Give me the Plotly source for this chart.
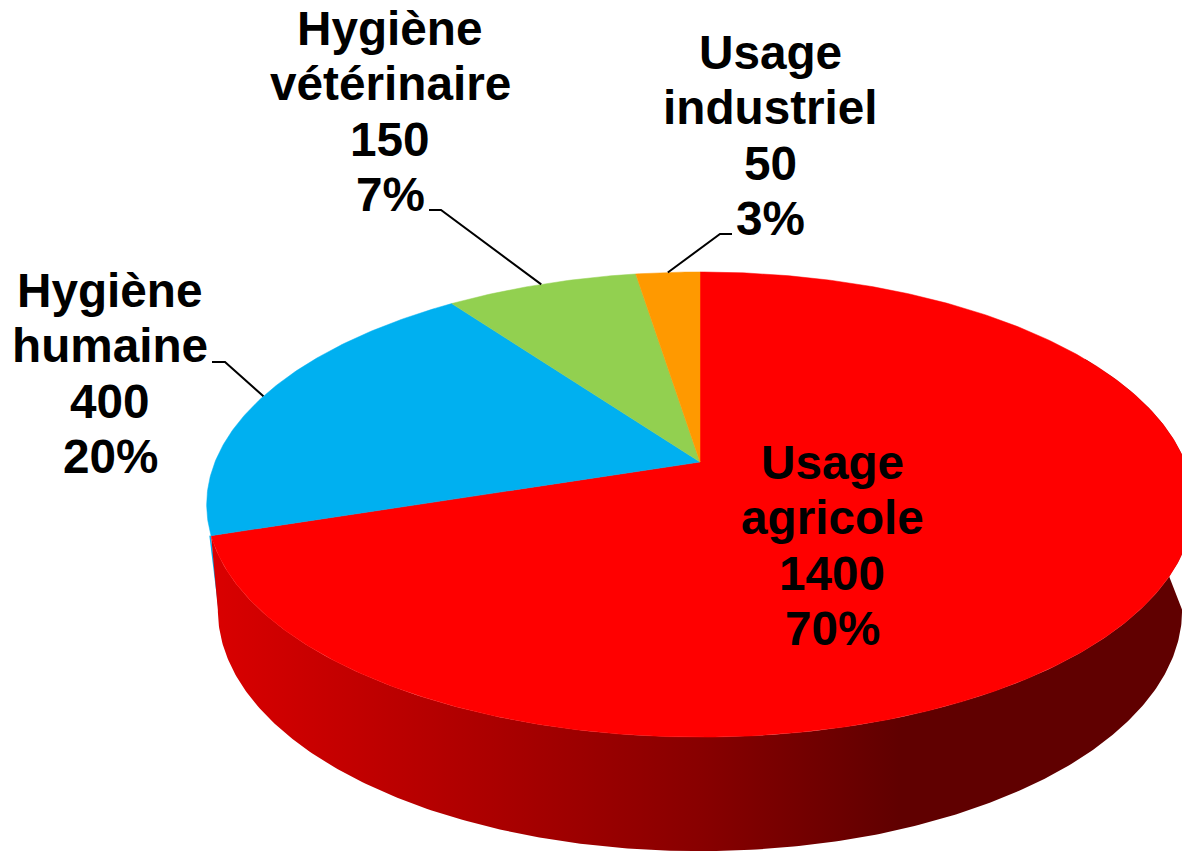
import numpy as np
import plotly.graph_objects as go

# ---- data ----
categories = ["Usage agricole", "Hygiène humaine", "Hygiène vétérinaire", "Usage industriel"]
values = [1400, 400, 150, 50]
percent_labels = ["70%", "20%", "7%", "3%"]
colors = ["#ff0000", "#00b0f0", "#92d050", "#ff9900"]

# ---- text placement (pixels) ----
label_x = [832, 110, 390, 770]
label_first_y = [462, 290, 28, 52]
LINE_STEP = 55.5
FONT_SIZE = 47.7
leader_starts = [None, [(212, 362), (225, 362)], [(429, 210), (441, 210)], [(732, 234), (720, 234)]]

# ---- perspective disc geometry (pixels) ----
W, H = 1182, 851
CX = 700
K = 0.183
TOP = dict(y0=462.0, A=485.0, B=224.8)
BOTTOM = dict(y0=566.0, A=474.0, B=233.0)


def rim(deg, d):
    t = np.radians(deg)
    u, v = np.sin(t), np.cos(t)
    w = 1 + K * v
    return CX + d["A"] * u / w, d["y0"] - d["B"] * v / w


fig = go.Figure()
total = sum(values)
edges = np.concatenate([[0], np.cumsum(values)]) / total * 360

# side wall of the first slice
t_end = edges[1]
grid = np.linspace(0, 360, 1441)
bx, _ = rim(grid, BOTTOM)
t_right, t_left = grid[np.argmax(bx)], grid[np.argmin(bx)]
top_t = np.linspace(t_end, 60, 300)
bot_t = np.linspace(t_right, t_left, 300)
tx, ty = rim(top_t, TOP)
bx, by = rim(bot_t, BOTTOM)
sx = np.concatenate([tx, bx])
sy = np.concatenate([ty, by])

# thin blue edge showing behind the wall on the left
lx = sx[[0]].tolist() + [bx[-1] + 2, bx[-1] + 6]
ly = sy[[0]].tolist() + [by[-1], by[-1] + 30]
fig.add_trace(go.Scatter(x=[v - 1 for v in lx], y=ly, mode="lines",
                         line=dict(color=colors[1], width=1.5), hoverinfo="skip"))

fig.add_trace(go.Scatter(
    x=np.append(sx, sx[0]), y=np.append(sy, sy[0]), mode="lines", fill="toself",
    line=dict(width=0), hoverinfo="skip",
    fillgradient=dict(type="horizontal", start=216, stop=900,
                      colorscale=[[0, "#d90000"], [0.708, "#880000"], [1, "#600000"]]),
))

# top face
for i, cat in enumerate(categories):
    ts = np.linspace(edges[i], edges[i + 1], max(int(edges[i + 1] - edges[i]) * 2, 8))
    x, y = rim(ts, TOP)
    fig.add_trace(go.Scatter(
        x=np.concatenate([[CX], x, [CX]]), y=np.concatenate([[TOP["y0"]], y, [TOP["y0"]]]),
        mode="lines", fill="toself", fillcolor=colors[i],
        line=dict(color=colors[i], width=0.5), hoverinfo="skip", name=cat,
    ))

# leader lines
for i, start in enumerate(leader_starts):
    if start is None:
        continue
    ex, ey = rim((edges[i] + edges[i + 1]) / 2, TOP)
    fig.add_trace(go.Scatter(
        x=[p[0] for p in start] + [float(ex)], y=[p[1] for p in start] + [float(ey)],
        mode="lines", line=dict(color="black", width=2), hoverinfo="skip",
    ))

# labels
annotations = []
for i, cat in enumerate(categories):
    lines = cat.split(" ") + [str(values[i]), percent_labels[i]]
    for j, line in enumerate(lines):
        annotations.append(dict(
            x=label_x[i], y=label_first_y[i] + j * LINE_STEP, text=line, showarrow=False,
            xref="x", yref="y", xanchor="center", yanchor="middle",
            font=dict(family="Liberation Sans", size=FONT_SIZE, color="black", weight="bold"),
        ))

fig.update_layout(
    width=W, height=H, margin=dict(l=0, r=0, t=0, b=0), showlegend=False,
    paper_bgcolor="white", plot_bgcolor="white", annotations=annotations,
    xaxis=dict(range=[0, W], visible=False, fixedrange=True),
    yaxis=dict(range=[H, 0], visible=False, fixedrange=True),
)
fig.write_html("out.html", post_script="document.body.style.margin='0';document.body.style.overflow='hidden';",
               config=dict(displayModeBar=False))
